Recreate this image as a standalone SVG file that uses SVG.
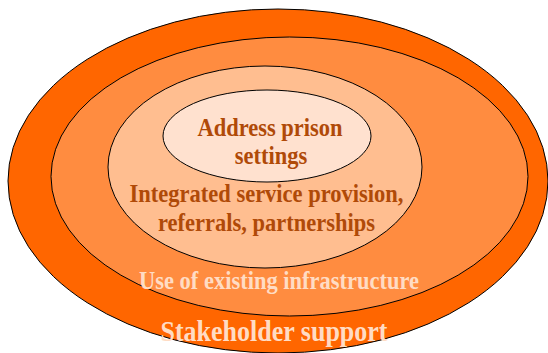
<svg xmlns="http://www.w3.org/2000/svg" width="548" height="353" viewBox="0 0 548 353">
  <style>
    .ring { stroke: #000000; stroke-width: 1; }
    .lbl { font-family: "Liberation Serif", "Times New Roman", serif; font-weight: bold; text-anchor: middle; }
    .dark { fill: #B04A08; font-size: 22.5px; }
    .light { fill: #FFDCC4; }
  </style>
  <rect width="548" height="353" fill="#FFFFFF"/>

  <!-- outermost layer -->
  <g id="stakeholder-support">
    <ellipse class="ring" cx="278" cy="181" rx="270" ry="172" fill="#FF6600"/>
  </g>

  <!-- second layer -->
  <g id="existing-infrastructure">
    <ellipse class="ring" cx="289.5" cy="176.5" rx="238.5" ry="139.5" fill="#FF8C40"/>
  </g>

  <!-- third layer -->
  <g id="integrated-services">
    <ellipse class="ring" cx="265" cy="167" rx="157" ry="101" fill="#FFBE90"/>
  </g>

  <!-- core -->
  <g id="prison-settings">
    <ellipse class="ring" cx="267" cy="136" rx="104" ry="46" fill="#FFE1CF"/>
  </g>

  <!-- labels: glyphs are slightly stretched vertically -->
  <g id="labels">
    <text class="lbl dark" transform="translate(270 136) scale(1 1.12)">Address prison</text>
    <text class="lbl dark" transform="translate(271 163.5) scale(1 1.12)">settings</text>
    <text class="lbl dark" transform="translate(266.5 202) scale(1 1.12)">Integrated service provision,</text>
    <text class="lbl dark" transform="translate(266.5 230.5) scale(1 1.12)">referrals, partnerships</text>
    <text class="lbl light" font-size="22.5" transform="translate(279 289) scale(1 1.12)">Use of existing infrastructure</text>
    <text class="lbl light" font-size="26" transform="translate(274 341) scale(1 1.12)">Stakeholder support</text>
  </g>
</svg>
